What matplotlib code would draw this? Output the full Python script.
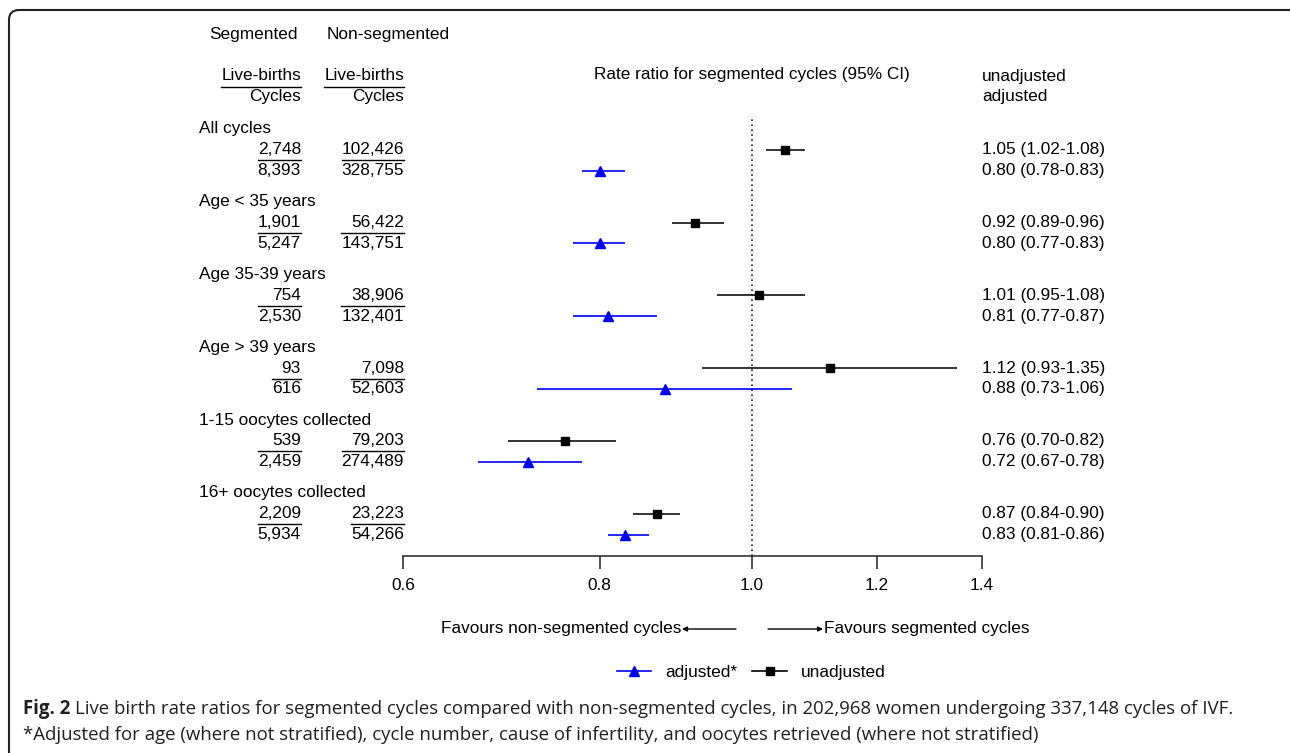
import matplotlib
matplotlib.use("Agg")
import matplotlib.pyplot as plt
from matplotlib.transforms import blended_transform_factory
from matplotlib.patches import FancyBboxPatch
from matplotlib.lines import Line2D
from matplotlib.ticker import NullLocator

# ---------------- data ----------------
groups = ["All cycles", "Age < 35 years", "Age 35-39 years", "Age > 39 years",
          "1-15 oocytes collected", "16+ oocytes collected"]
seg_births = ["2,748", "1,901", "754", "93", "539", "2,209"]
seg_cycles = ["8,393", "5,247", "2,530", "616", "2,459", "5,934"]
nonseg_births = ["102,426", "56,422", "38,906", "7,098", "79,203", "23,223"]
nonseg_cycles = ["328,755", "143,751", "132,401", "52,603", "274,489", "54,266"]
unadj_rr = [1.05, 0.92, 1.01, 1.12, 0.76, 0.87]
unadj_lo = [1.02, 0.89, 0.95, 0.93, 0.70, 0.84]
unadj_hi = [1.08, 0.96, 1.08, 1.35, 0.82, 0.90]
adj_rr = [0.80, 0.80, 0.81, 0.88, 0.72, 0.83]
adj_lo = [0.78, 0.77, 0.77, 0.73, 0.67, 0.81]
adj_hi = [0.83, 0.83, 0.87, 1.06, 0.78, 0.86]
xticks = [0.6, 0.8, 1.0, 1.2, 1.4]
xticklabels = ["0.6", "0.8", "1.0", "1.2", "1.4"]

# ---------------- style ----------------
plt.rcParams['font.family'] = ['Liberation Sans', 'DejaVu Sans']
FS = 12.4
BLUE = '#0000ff'
W, H = 1290, 753
fig = plt.figure(figsize=(W / 100, H / 100), dpi=100)
fig.patch.set_facecolor('white')


def fx(px):
    return px / W


def fy(py):
    return 1 - py / H


# forest axes
ax = fig.add_axes([fx(403), fy(556), fx(982) - fx(403), fy(119) - fy(556)])
ax.set_xscale('log')
ax.set_xlim(0.6, 1.4)
ax.set_ylim(20.53, -0.48)
ax.set_xticks(xticks)
ax.set_xticklabels(xticklabels)
ax.xaxis.set_minor_locator(NullLocator())
ax.set_yticks([])
for s in ['top', 'left', 'right']:
    ax.spines[s].set_visible(False)
ax.spines['bottom'].set_linewidth(1.1)
ax.spines['bottom'].set_color('#222222')
ax.tick_params(axis='x', direction='out', length=9, width=1.1, pad=6.5,
               labelsize=FS, color='#222222')
ax.patch.set_alpha(0)

ax.axvline(1.0, color='#222222', linestyle=(0, (1, 2)), lw=1.2)

y_head = [g * 3.5 for g in range(len(groups))]
y_un = [g * 3.5 + 1 for g in range(len(groups))]
y_adj = [g * 3.5 + 2 for g in range(len(groups))]

ax.hlines(y_un, unadj_lo, unadj_hi, color='#111111', lw=1.2)
ax.plot(unadj_rr, y_un, 's', color='black', ms=6.2, linestyle='none')
ax.hlines(y_adj, adj_lo, adj_hi, color=BLUE, lw=1.2)
ax.plot(adj_rr, y_adj, '^', color=BLUE, ms=7, linestyle='none')

trans = blended_transform_factory(fig.transFigure, ax.transData)

# headers
fig.text(fx(253), fy(34), "Segmented", ha='center', va='center', fontsize=FS)
fig.text(fx(388), fy(34), "Non-segmented", ha='center', va='center', fontsize=FS)
fig.text(fx(752), fy(75), "Rate ratio for segmented cycles (95% CI)",
         ha='center', va='center', fontsize=FS)
fig.text(fx(982), fy(76), "unadjusted", ha='left', va='center', fontsize=FS)
fig.text(fx(982), fy(97), "adjusted", ha='left', va='center', fontsize=FS)

frac_pairs = []
for xr in (301, 404):
    t1 = fig.text(fx(xr), fy(76), "Live-births", ha='right', va='center', fontsize=FS)
    t2 = fig.text(fx(xr), fy(97), "Cycles", ha='right', va='center', fontsize=FS)
    frac_pairs.append((t1, t2, xr, fy(87), fig.transFigure))

for g in range(len(groups)):
    fig.text(fx(199), y_head[g], groups[g], transform=trans, ha='left',
             va='center', fontsize=FS)
    for xr, top, bot in ((301, seg_births[g], seg_cycles[g]),
                         (404, nonseg_births[g], nonseg_cycles[g])):
        t1 = fig.text(fx(xr), y_un[g], top, transform=trans, ha='right',
                      va='center', fontsize=FS)
        t2 = fig.text(fx(xr), y_adj[g], bot, transform=trans, ha='right',
                      va='center', fontsize=FS)
        frac_pairs.append((t1, t2, xr, y_un[g] + 0.5, trans))
    fig.text(fx(982), y_un[g],
             f"{unadj_rr[g]:.2f} ({unadj_lo[g]:.2f}-{unadj_hi[g]:.2f})",
             transform=trans, ha='left', va='center', fontsize=FS)
    fig.text(fx(982), y_adj[g],
             f"{adj_rr[g]:.2f} ({adj_lo[g]:.2f}-{adj_hi[g]:.2f})",
             transform=trans, ha='left', va='center', fontsize=FS)

# favours row
fig.text(fx(681), fy(629), "Favours non-segmented cycles", ha='right',
         va='center', fontsize=FS)
fig.text(fx(824), fy(629), "Favours segmented cycles", ha='left',
         va='center', fontsize=FS)
arrow_kw = dict(arrowstyle='-|>', lw=1.0, color='black', mutation_scale=7,
                shrinkA=0, shrinkB=0)
fig.add_artist(matplotlib.patches.FancyArrowPatch(
    (fx(736), fy(629)), (fx(682), fy(629)), transform=fig.transFigure, **arrow_kw))
fig.add_artist(matplotlib.patches.FancyArrowPatch(
    (fx(768), fy(629)), (fx(823), fy(629)), transform=fig.transFigure, **arrow_kw))

# legend
handles = [Line2D([], [], color=BLUE, marker='^', ms=7, lw=1.2),
           Line2D([], [], color='black', marker='s', ms=6.2, lw=1.2)]
fig.legend(handles, ["adjusted*", "unadjusted"], loc='center',
           bbox_to_anchor=(fx(751), fy(672)), ncol=2, frameon=False,
           fontsize=FS, handlelength=2.0, handletextpad=0.8, columnspacing=0.9)

# fraction lines (measure text widths)
fig.canvas.draw()
renderer = fig.canvas.get_renderer()
for t1, t2, xr, yl, tr in frac_pairs:
    w = max(t1.get_window_extent(renderer).width,
            t2.get_window_extent(renderer).width)
    x_right = fx(xr)
    x_left = fx(xr - w)
    ln = Line2D([x_left, x_right], [yl, yl], transform=tr, color='black', lw=1.0)
    fig.add_artist(ln)

# caption
CAP_FS = 13.4
CAP_FAM = ['Open Sans', 'DejaVu Sans']
tb = fig.text(fx(23), fy(709), "Fig. 2", ha='left', va='center',
              fontsize=CAP_FS, fontweight='bold', family=CAP_FAM, color='#231f20')
fig.canvas.draw()
bw = tb.get_window_extent(renderer).width
fig.text(fx(23 + bw + 5), fy(709),
         "Live birth rate ratios for segmented cycles compared with non-segmented "
         "cycles, in 202,968 women undergoing 337,148 cycles of IVF.",
         ha='left', va='center', fontsize=CAP_FS, family=CAP_FAM, color='#231f20')
fig.text(fx(23), fy(735),
         "*Adjusted for age (where not stratified), cycle number, cause of "
         "infertility, and oocytes retrieved (where not stratified)",
         ha='left', va='center', fontsize=CAP_FS, family=CAP_FAM, color='#231f20')

# frame
frame = FancyBboxPatch((0.09, -0.12), 13.06 - 0.09, 7.43 + 0.12,
                       boxstyle='round,pad=0,rounding_size=0.1',
                       transform=fig.dpi_scale_trans, fill=False,
                       edgecolor='#222222', lw=1.5)
fig.add_artist(frame)

fig.savefig("out.png", dpi=100)
